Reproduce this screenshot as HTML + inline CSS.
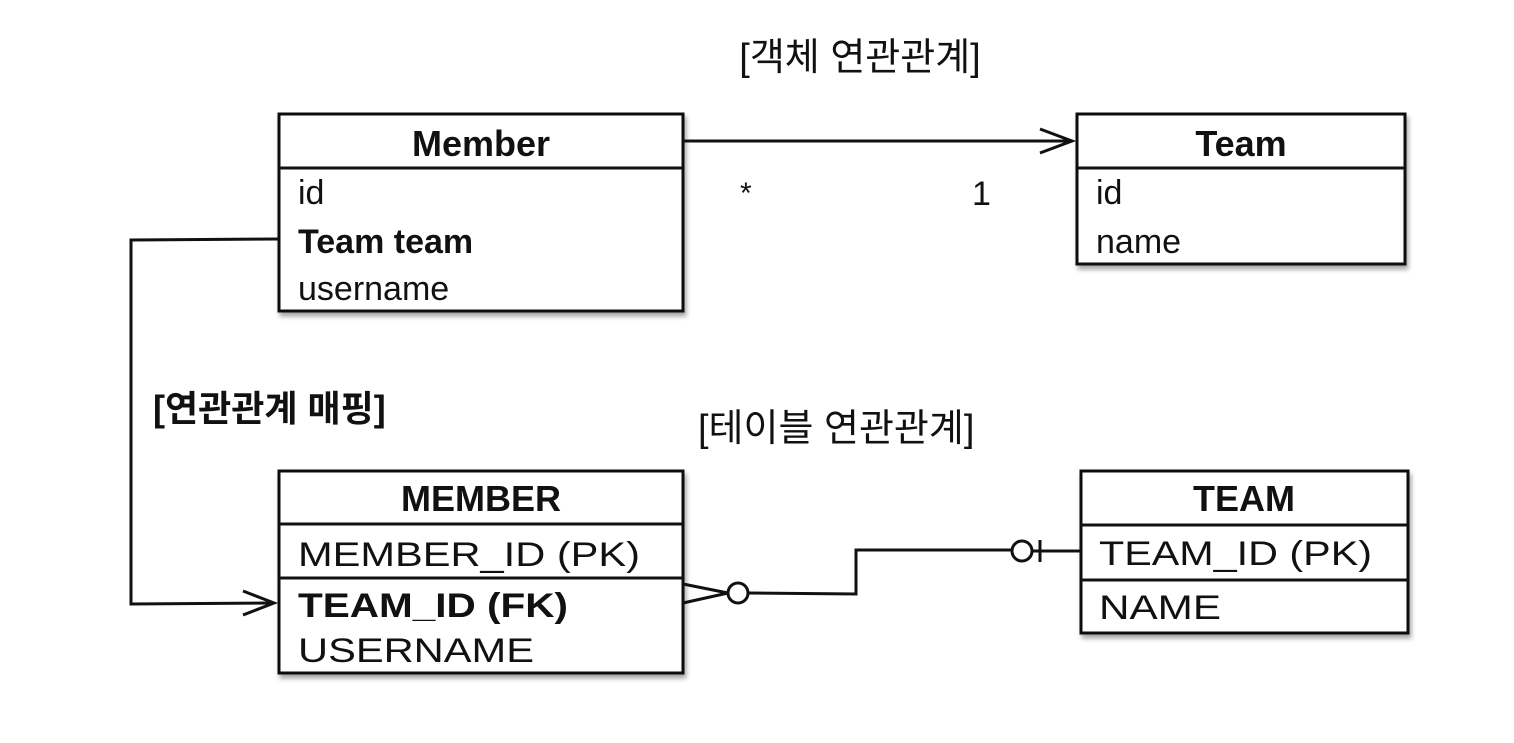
<!DOCTYPE html>
<html><head><meta charset="utf-8"><style>
body{margin:0;background:#fff;}
svg text{font-family:"Liberation Sans","Noto Sans CJK KR",sans-serif;fill:#111;}
</style></head><body>
<svg width="1514" height="738" viewBox="0 0 1514 738" xmlns="http://www.w3.org/2000/svg">
<defs><filter id="sh" x="-5%" y="-5%" width="115%" height="120%"><feDropShadow dx="2" dy="4" stdDeviation="2.5" flood-color="#000" flood-opacity="0.35"/></filter></defs>
<g stroke="#111" stroke-width="3" fill="#fff">
<rect x="279" y="114" width="404" height="197" filter="url(#sh)"/>
<rect x="1077" y="114" width="328" height="150" filter="url(#sh)"/>
<rect x="279" y="471" width="404" height="202" filter="url(#sh)"/>
<rect x="1081" y="471" width="327" height="162" filter="url(#sh)"/>
</g>
<g stroke="#111" stroke-width="3" fill="none">
<line x1="279" y1="168" x2="683" y2="168"/>
<line x1="1077" y1="168" x2="1405" y2="168"/>
<line x1="279" y1="524" x2="683" y2="524"/>
<line x1="279" y1="578" x2="683" y2="578"/>
<line x1="1081" y1="525" x2="1408" y2="525"/>
<line x1="1081" y1="580" x2="1408" y2="580"/>
<line x1="683" y1="141" x2="1072" y2="141"/>
<polyline points="1040,129 1072,141 1040,153"/>
<polyline points="279,239 131,240 131,604 273,603"/>
<polyline points="243,591 274,603 243,615"/>
<polyline points="683,584 728,593 683,603"/>
<circle cx="738" cy="593" r="10"/>
<polyline points="748,593 856,594 856,550 1012,550"/>
<circle cx="1022" cy="551" r="10"/>
<line x1="1040" y1="540" x2="1040" y2="562"/>
<line x1="1032" y1="551" x2="1081" y2="551"/>
</g>
<text x="860" y="70" font-size="38" text-anchor="middle">[객체 연관관계]</text>
<text x="481" y="156" font-size="36" font-weight="bold" text-anchor="middle">Member</text>
<text x="298" y="204" font-size="34">id</text>
<text x="298" y="253" font-size="34" font-weight="bold">Team team</text>
<text x="298" y="300" font-size="34">username</text>
<text x="1241" y="156" font-size="36" font-weight="bold" text-anchor="middle">Team</text>
<text x="1096" y="204" font-size="34">id</text>
<text x="1096" y="253" font-size="34">name</text>
<text x="740" y="203" font-size="30">*</text>
<text x="972" y="205" font-size="34">1</text>
<text x="153" y="421" font-size="36" font-weight="bold">[연관관계 매핑]</text>
<text x="698" y="441" font-size="38">[테이블 연관관계]</text>
<text x="481" y="511" font-size="36" font-weight="bold" text-anchor="middle">MEMBER</text>
<text x="298" y="566" font-size="34" textLength="342" lengthAdjust="spacingAndGlyphs">MEMBER_ID (PK)</text>
<text x="298" y="617" font-size="34" font-weight="bold" textLength="270" lengthAdjust="spacingAndGlyphs">TEAM_ID (FK)</text>
<text x="298" y="662" font-size="34" textLength="236" lengthAdjust="spacingAndGlyphs">USERNAME</text>
<text x="1244" y="511" font-size="36" font-weight="bold" text-anchor="middle">TEAM</text>
<text x="1099" y="565" font-size="34" textLength="273" lengthAdjust="spacingAndGlyphs">TEAM_ID (PK)</text>
<text x="1099" y="619" font-size="34" textLength="122" lengthAdjust="spacingAndGlyphs">NAME</text>
</svg>
</body></html>
